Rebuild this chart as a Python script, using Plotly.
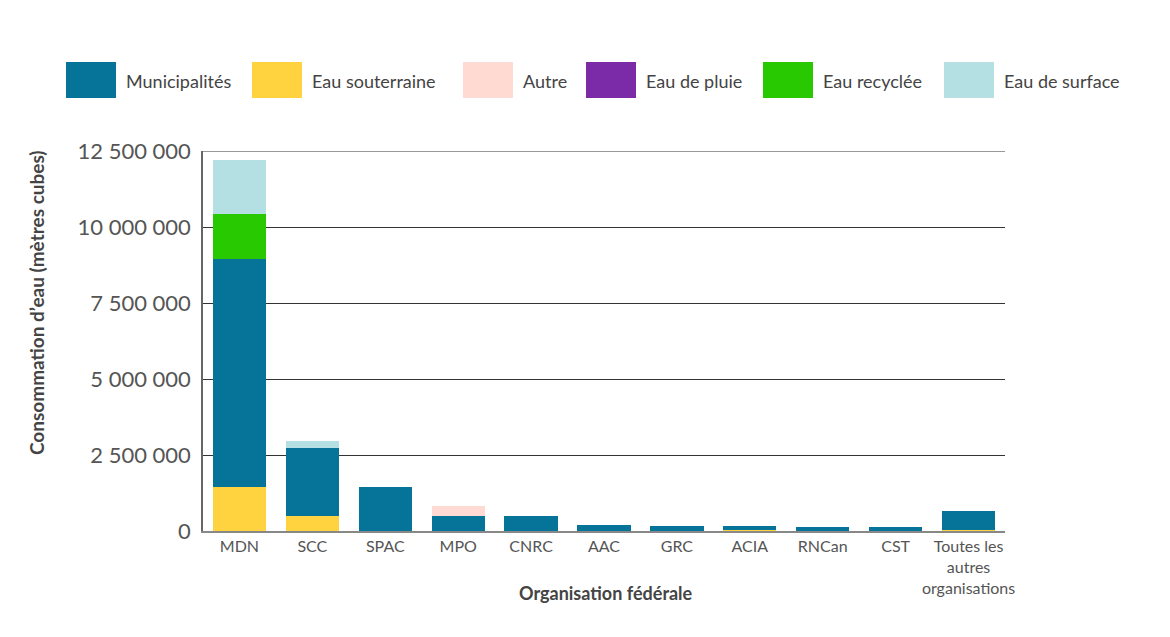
import plotly.graph_objects as go

categories = ["MDN", "SCC", "SPAC", "MPO", "CNRC", "AAC", "GRC", "ACIA", "RNCan", "CST",
              "Toutes les<br>autres<br>organisations"]

eau_souterraine = [1450000, 490000, 0, 0, 0, 0, 0, 30000, 0, 0, 40000]
municipalites   = [7500000, 2230000, 1440000, 500000, 490000, 210000, 170000, 130000, 140000, 120000, 620000]
autre           = [0, 0, 0, 320000, 0, 0, 0, 0, 0, 0, 0]
eau_pluie       = [0, 0, 0, 0, 0, 0, 0, 0, 0, 0, 0]
eau_recyclee    = [1480000, 0, 0, 0, 0, 0, 0, 0, 0, 0, 0]
eau_surface     = [1780000, 240000, 0, 0, 0, 0, 0, 0, 0, 0, 0]

y_tickvals = [0, 2500000, 5000000, 7500000, 10000000, 12500000]
y_ticktext = ["0", "2 500 000", "5 000 000", "7 500 000", "10 000 000", "12 500 000"]

series = [
    ("Eau souterraine", eau_souterraine, "#FFD23F"),
    ("Municipalités", municipalites, "#067399"),
    ("Autre", autre, "#FFDAD3"),
    ("Eau de pluie", eau_pluie, "#7B2AA8"),
    ("Eau recyclée", eau_recyclee, "#28C900"),
    ("Eau de surface", eau_surface, "#B4DFE3"),
]
legend_order = ["Municipalités", "Eau souterraine", "Autre", "Eau de pluie", "Eau recyclée", "Eau de surface"]
colors = {n: c for n, _, c in series}

FONT = "Lato"

fig = go.Figure()
for name, vals, col in series:
    fig.add_trace(go.Bar(x=categories, y=vals, name=name, marker_color=col,
                         marker_line_width=0, showlegend=False))

# plot area in page pixels: x 203..1005, y 151..531
PX0, PX1, PY0, PY1 = 203, 1005, 151, 531
PW, PH = PX1 - PX0, PY1 - PY0

def px(x):
    return (x - PX0) / PW

def py(y):
    return (PY1 - y) / PH

box_x = [66, 252, 463, 586, 763, 944]
shapes = []
annotations = []
for name, x0 in zip(legend_order, box_x):
    shapes.append(dict(type="rect", xref="paper", yref="paper",
                       x0=px(x0), x1=px(x0 + 50), y0=py(98), y1=py(62),
                       fillcolor=colors[name], line_width=0))
    annotations.append(dict(xref="paper", yref="paper", x=px(x0 + 58),
                            y=py(81), text=name, showarrow=False,
                            xanchor="left", yanchor="middle",
                            font=dict(family=FONT, size=18, color="#444444")))

# top gridline at range end
shapes.append(dict(type="line", xref="paper", yref="y", x0=0, x1=1,
                   y0=y_tickvals[-1], y1=y_tickvals[-1],
                   line=dict(color="#333333", width=1)))

annotations.append(dict(xref="paper", yref="paper", x=px(36), y=py(303),
                        text="<b>Consommation d’eau (mètres cubes)</b>", textangle=-90,
                        showarrow=False, xanchor="center", yanchor="middle",
                        font=dict(family=FONT, size=19, color="#444444")))
annotations.append(dict(xref="paper", yref="paper", x=px(606), y=py(593),
                        text="<b>Organisation fédérale</b>",
                        showarrow=False, xanchor="center", yanchor="middle",
                        font=dict(family=FONT, size=18, color="#444444")))

# page body has an 8px margin
W, H = 1154, 621
fig.update_layout(
    barmode="stack",
    bargap=0.27,
    width=W, height=H,
    margin=dict(l=PX0 - 8, r=W + 8 - PX1, t=PY0 - 8, b=H + 8 - PY1),
    plot_bgcolor="white", paper_bgcolor="white",
    font=dict(family=FONT, color="#555555"),
    shapes=shapes,
    annotations=annotations,
)
fig.update_yaxes(range=[0, 12500000], tickvals=y_tickvals, ticktext=y_ticktext,
                 tickfont=dict(size=22, color="#555555"), showgrid=True,
                 gridcolor="#333333", gridwidth=1, zeroline=False,
                 showline=True, linecolor="#666666", linewidth=1.5, ticks="",
                 ticklabelstandoff=6)
fig.update_xaxes(tickfont=dict(size=16, color="#555555"), showline=True,
                 linecolor="#888888", linewidth=2, ticks="")

fig.write_html("out.html")
